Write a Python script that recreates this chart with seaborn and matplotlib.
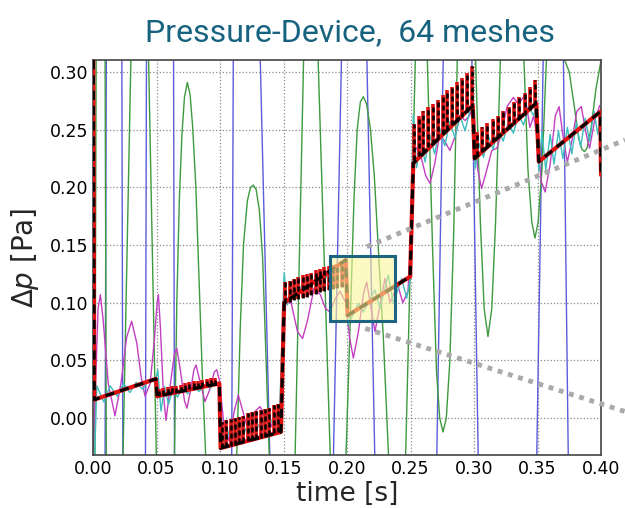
import matplotlib
matplotlib.use("Agg")
import matplotlib.pyplot as plt
from matplotlib.patches import Rectangle
import seaborn as sns

# reference solution: piecewise-linear sawtooth (black dashed over red)
saw_t = [0.0000, 0.0010, 0.0495, 0.0505, 0.0995, 0.1005, 0.1480, 0.1505, 0.1990,
         0.2005, 0.2497, 0.2522, 0.2990, 0.3005, 0.3490, 0.3510, 0.3995, 0.4000]
saw_v = [0.400, 0.016, 0.034, 0.019, 0.030, -0.026, -0.012, 0.100, 0.137,
         0.089, 0.1226, 0.221, 0.271, 0.225, 0.273, 0.2223, 0.2656, 0.2107]

# high-frequency spikes riding on the sawtooth
spike_t = [0.0520, 0.0554, 0.0588, 0.0622, 0.0656, 0.0690, 0.0724, 0.0758, 0.0792, 0.0826, 0.0860, 0.0894, 0.0928, 0.0962,
           0.1015, 0.1049, 0.1083, 0.1117, 0.1151, 0.1185, 0.1219, 0.1253, 0.1287, 0.1321, 0.1355, 0.1389, 0.1423, 0.1457,
           0.1515, 0.1549, 0.1583, 0.1617, 0.1651, 0.1685, 0.1719, 0.1753, 0.1787, 0.1821, 0.1855, 0.1889, 0.1923, 0.1957,
           0.2525, 0.2563, 0.2601, 0.2639, 0.2677, 0.2715, 0.2753, 0.2791, 0.2829, 0.2867, 0.2905, 0.2943, 0.2981,
           0.3020, 0.3062, 0.3104, 0.3146, 0.3188, 0.3230, 0.3272, 0.3314, 0.3356, 0.3398, 0.3440, 0.3482]
spike_lo = [0.019, 0.020, 0.021, 0.022, 0.022, 0.023, 0.024, 0.025, 0.026, 0.026, 0.027, 0.028, 0.029, 0.029,
            -0.026, -0.025, -0.024, -0.023, -0.022, -0.021, -0.020, -0.019, -0.018, -0.017, -0.016, -0.015, -0.013, -0.012,
            0.100, 0.101, 0.102, 0.103, 0.104, 0.105, 0.107, 0.108, 0.109, 0.110, 0.111, 0.112, 0.113, 0.114,
            0.2235, 0.227, 0.231, 0.235, 0.238, 0.242, 0.246, 0.250, 0.254, 0.257, 0.261, 0.265, 0.269,
            0.227, 0.231, 0.235, 0.239, 0.243, 0.247, 0.251, 0.255, 0.259, 0.263, 0.267, 0.271]
spike_hi = [0.025, 0.026, 0.027, 0.028, 0.028, 0.029, 0.030, 0.031, 0.032, 0.032, 0.033, 0.034, 0.035, 0.035,
            -0.003, -0.002, -0.001, 0.000, 0.001, 0.002, 0.004, 0.005, 0.006, 0.007, 0.008, 0.009, 0.011, 0.012,
            0.118, 0.119, 0.121, 0.122, 0.124, 0.125, 0.126, 0.128, 0.129, 0.131, 0.132, 0.133, 0.134, 0.136,
            0.255, 0.262, 0.266, 0.270, 0.272, 0.276, 0.280, 0.284, 0.287, 0.291, 0.295, 0.299, 0.305,
            0.248, 0.252, 0.256, 0.259, 0.262, 0.266, 0.270, 0.274, 0.278, 0.282, 0.287, 0.293]

# cyan: small oscillation around the sawtooth
cyan_t = [0.0000, 0.0030, 0.0085, 0.0135, 0.0190, 0.0240, 0.0290, 0.0340, 0.0390, 0.0440, 0.0490,
          0.0510, 0.0535, 0.0565, 0.0595, 0.0630, 0.0665, 0.0705, 0.0745, 0.0790, 0.0835, 0.0880, 0.0925, 0.0970, 0.0995,
          0.1015, 0.1040, 0.1080, 0.1120, 0.1170, 0.1220, 0.1270, 0.1320, 0.1370, 0.1420, 0.1470,
          0.1505, 0.1530, 0.1560, 0.1600, 0.1650, 0.1700, 0.1750, 0.1800, 0.1850, 0.1900, 0.1950, 0.1985,
          0.2010, 0.2089, 0.2129, 0.2220, 0.2260, 0.2325, 0.2365, 0.2430, 0.2470, 0.2495,
          0.2510, 0.2522, 0.2548, 0.2580, 0.2615, 0.2650, 0.2690, 0.2730, 0.2770, 0.2810, 0.2850, 0.2890, 0.2930, 0.2970, 0.2995,
          0.3010, 0.3040, 0.3075, 0.3110, 0.3150, 0.3190, 0.3230, 0.3270, 0.3310, 0.3350, 0.3390, 0.3430, 0.3470, 0.3495,
          0.3510, 0.3535, 0.3565, 0.3600, 0.3630, 0.3665, 0.3700, 0.3735, 0.3770, 0.3805, 0.3840, 0.3875, 0.3910, 0.3945, 0.3975, 0.4000]
cyan_v = [-0.080, 0.028, 0.014, 0.028, 0.019, 0.030, 0.022, 0.031, 0.025, 0.033, 0.031,
          0.042, 0.006, 0.027, 0.012, 0.026, 0.018, 0.027, 0.021, 0.028, 0.023, 0.029, 0.026, 0.031, 0.030,
          -0.005, -0.025, -0.008, -0.020, -0.004, -0.014, 0.000, -0.010, 0.004, -0.005, 0.006,
          0.126, 0.098, 0.112, 0.104, 0.117, 0.108, 0.122, 0.112, 0.126, 0.117, 0.130, 0.125,
          0.081, 0.0995, 0.092, 0.111, 0.095, 0.124, 0.0995, 0.121, 0.104, 0.118,
          0.200, 0.263, 0.217, 0.240, 0.222, 0.246, 0.229, 0.251, 0.236, 0.257, 0.243, 0.262, 0.249, 0.268, 0.262,
          0.2165, 0.238, 0.226, 0.245, 0.233, 0.251, 0.240, 0.257, 0.247, 0.263, 0.254, 0.270, 0.262, 0.275,
          0.214, 0.248, 0.215, 0.246, 0.220, 0.249, 0.225, 0.252, 0.229, 0.256, 0.235, 0.260, 0.240, 0.266, 0.246, 0.268]

# magenta: medium oscillation
mag_t = [0.0000, 0.0020, 0.0040, 0.0058, 0.0080, 0.0120, 0.0173, 0.0220, 0.0265, 0.0304, 0.0345, 0.0380, 0.0410, 0.0450,
         0.0485, 0.0505, 0.0515, 0.0530, 0.0555, 0.0575, 0.0610, 0.0640, 0.0660, 0.0690, 0.0720, 0.0740, 0.0770, 0.0795,
         0.0811, 0.0840, 0.0882, 0.0920, 0.0955, 0.0974, 0.0995, 0.1030, 0.1073, 0.1110, 0.1144, 0.1180, 0.1210, 0.1260,
         0.1315, 0.1360, 0.1400, 0.1440, 0.1480, 0.1510, 0.1560, 0.1610, 0.1650, 0.1690, 0.1740, 0.1790, 0.1830, 0.1866,
         0.1910, 0.1945, 0.1990, 0.2020, 0.2050, 0.2090, 0.2130, 0.2155, 0.2185, 0.2220, 0.2260, 0.2299, 0.2339, 0.2370,
         0.2400, 0.2440, 0.2480, 0.2500, 0.2505, 0.2540, 0.2580, 0.2620, 0.2654, 0.2690, 0.2730, 0.2770, 0.2810, 0.2850,
         0.2890, 0.2930, 0.2965, 0.2995, 0.3030, 0.3060, 0.3100, 0.3140, 0.3180, 0.3220, 0.3260, 0.3310, 0.3350, 0.3400,
         0.3440, 0.3470, 0.3500, 0.3530, 0.3560, 0.3600, 0.3640, 0.3670, 0.3700, 0.3735, 0.3770, 0.3810, 0.3845, 0.3880,
         0.3910, 0.3950, 0.3990]
mag_v = [-0.030, 0.030, 0.095, 0.107, 0.085, 0.030, 0.002, 0.030, 0.070, 0.084, 0.065, 0.035, 0.019, 0.030,
         0.070, 0.100, 0.107, 0.080, 0.020, -0.002, 0.030, 0.055, 0.0605, 0.040, 0.015, 0.0086, 0.025, 0.042,
         0.046, 0.033, 0.0143, 0.025, 0.040, 0.042, 0.033, -0.005, -0.020, 0.005, 0.020, 0.006, -0.006, 0.004,
         0.010, 0.000, -0.008, 0.004, 0.005, 0.100, 0.100, 0.075, 0.069, 0.085, 0.1125, 0.107, 0.095, 0.092,
         0.104, 0.110, 0.100, 0.070, 0.052, 0.075, 0.108, 0.118, 0.098, 0.075, 0.098, 0.121, 0.100, 0.108,
         0.115, 0.100, 0.110, 0.150, 0.190, 0.235, 0.228, 0.210, 0.2035, 0.220, 0.246, 0.240, 0.232, 0.244,
         0.262, 0.258, 0.262, 0.273, 0.215, 0.199, 0.215, 0.232, 0.234, 0.248, 0.270, 0.278, 0.272, 0.280,
         0.252, 0.262, 0.240, 0.205, 0.196, 0.220, 0.262, 0.270, 0.245, 0.222, 0.240, 0.266, 0.270, 0.248,
         0.234, 0.258, 0.271]

# green: large oscillation, mostly off the top/bottom of the view
green_t = [0.0000, 0.0015, 0.0025, 0.0060, 0.0095, 0.0105, 0.0170, 0.0235, 0.0300, 0.0370, 0.0436, 0.0500,
           0.0570, 0.0640, 0.0660, 0.0680, 0.0700, 0.0720, 0.0743, 0.0765, 0.0785, 0.0810, 0.0835, 0.0860,
           0.0890, 0.1010, 0.1130, 0.1160, 0.1185, 0.1215, 0.1240, 0.1262, 0.1285, 0.1310, 0.1335, 0.1360,
           0.1390, 0.1490, 0.1590, 0.1660, 0.1715, 0.1770, 0.1870, 0.1930, 0.1990, 0.2030, 0.2055, 0.2080,
           0.2105, 0.2129, 0.2155, 0.2185, 0.2215, 0.2250, 0.2286, 0.2330, 0.2395, 0.2460, 0.2540, 0.2590,
           0.2630, 0.2674, 0.2705, 0.2730, 0.2756, 0.2782, 0.2810, 0.2840, 0.2870, 0.2930, 0.3010, 0.3050,
           0.3080, 0.3110, 0.3140, 0.3170, 0.3210, 0.3290, 0.3390, 0.3425, 0.3455, 0.3480, 0.3505, 0.3535,
           0.3570, 0.3620, 0.3680, 0.3750, 0.3790, 0.3825, 0.3850, 0.3870, 0.3890, 0.3920, 0.3960, 0.4000]
green_v = [-0.300, -0.040, 0.320, 0.500, 0.320, -0.040, -0.300, -0.040, 0.320, 0.550, 0.320, -0.040,
           -0.200, -0.040, 0.100, 0.190, 0.245, 0.278, 0.291, 0.280, 0.252, 0.200, 0.120, 0.040,
           -0.040, -0.250, -0.040, 0.080, 0.150, 0.188, 0.200, 0.202, 0.198, 0.180, 0.140, 0.060,
           -0.040, -0.250, -0.040, 0.320, 0.450, 0.320, -0.040, -0.200, -0.040, 0.100, 0.190, 0.250,
           0.274, 0.2786, 0.272, 0.250, 0.210, 0.140, 0.070, -0.040, -0.150, -0.040, 0.320, 0.400,
           0.320, 0.146, 0.040, 0.000, -0.012, 0.000, 0.050, 0.160, 0.320, 0.500, 0.320, 0.170,
           0.095, 0.0707, 0.095, 0.170, 0.320, 0.500, 0.320, 0.215, 0.170, 0.156, 0.170, 0.215,
           0.310, 0.330, 0.320, 0.300, 0.270, 0.242, 0.233, 0.231, 0.234, 0.250, 0.285, 0.310]

# blue: very large oscillation, only its crossings of the view are visible
blue_t = [0.0000, 0.0095, 0.0105, 0.0227, 0.0235, 0.0413, 0.0421, 0.0634, 0.0642, 0.1092, 0.1105,
          0.1315, 0.1394, 0.1892, 0.1958, 0.2155, 0.2220, 0.2706, 0.2759, 0.2982, 0.3034, 0.3493,
          0.3546, 0.3703, 0.3743, 0.4000]
blue_v = [-0.040, -0.040, 0.320, 0.320, -0.040, -0.040, 0.320, 0.320, -0.040, -0.040, 0.320,
          0.320, -0.040, -0.040, 0.320, 0.320, -0.040, -0.040, 0.320, 0.320, -0.040, -0.040,
          0.320, 0.320, -0.040, -0.040]

x_ticks = [0.00, 0.05, 0.10, 0.15, 0.20, 0.25, 0.30, 0.35, 0.40]
y_ticks = [0.00, 0.05, 0.10, 0.15, 0.20, 0.25, 0.30]

# zoom box and its guide lines (data coordinates)
box_x0, box_x1 = 0.1868, 0.2381
box_y0, box_y1 = 0.0845, 0.1406
guide_upper = ([0.2156, 0.4189], [0.1486, 0.2411])
guide_lower = ([0.2144, 0.4189], [0.0777, 0.0057])


def main():
    sns.set_style("white")
    plt.rcParams["font.family"] = ["DejaVu Sans"]

    fig = plt.figure(figsize=(6.25, 5.08), dpi=100)
    ax = fig.add_axes([0.1488, 0.1043, 0.8128, 0.7776])

    kw = dict(ax=ax, estimator=None, sort=False, legend=False)
    sns.lineplot(x=blue_t, y=blue_v, color="#5b5bdc", lw=1.0, **kw)
    sns.lineplot(x=green_t, y=green_v, color="#3e9a3e", lw=1.0, **kw)
    sns.lineplot(x=mag_t, y=mag_v, color="#c23fc2", lw=1.0, **kw)
    sns.lineplot(x=cyan_t, y=cyan_v, color="#3dbdbd", lw=1.0, **kw)

    # red solution with its spikes, then the black dashed reference on top
    ax.vlines(spike_t, spike_lo, spike_hi, color="#e01010", lw=2.6, zorder=4)
    sns.lineplot(x=saw_t, y=saw_v, color="#e01010", lw=3.0, zorder=4, **kw)
    ax.vlines(spike_t, spike_lo, spike_hi, color="black", lw=1.8,
              linestyles=(0, (2.0, 1.2)), zorder=5)
    sns.lineplot(x=saw_t, y=saw_v, color="black", lw=2.2, zorder=5, **kw)
    ax.lines[-1].set_linestyle((0, (3.0, 2.0)))

    ax.add_patch(Rectangle((box_x0, box_y0), box_x1 - box_x0, box_y1 - box_y0,
                           facecolor="#fbf59a", alpha=0.6, edgecolor="none", zorder=6))
    ax.add_patch(Rectangle((box_x0, box_y0), box_x1 - box_x0, box_y1 - box_y0,
                           facecolor="none", edgecolor="#1d6480", lw=2.2, zorder=7))
    for gx, gy in (guide_upper, guide_lower):
        ax.plot(gx, gy, color="#aaaaaa", lw=3.5, linestyle=(0, (1.0, 1.2)),
                clip_on=False, zorder=8)

    ax.set_xlim(0.0, 0.40)
    ax.set_ylim(-0.032, 0.3104)
    ax.set_xticks(x_ticks)
    ax.set_yticks(y_ticks)
    ax.set_xticklabels([f"{v:.2f}" for v in x_ticks])
    ax.set_yticklabels([f"{v:.2f}" for v in y_ticks])
    ax.tick_params(direction="in", length=4, labelsize=12.5, colors="black")
    ax.grid(True, linestyle=":", color="#8a8a8a", lw=0.9)
    for s in ax.spines.values():
        s.set_color("#444444")
        s.set_linewidth(1.2)

    ax.set_xlabel("time [s]", fontsize=19, labelpad=2)
    ax.set_ylabel(r"$\Delta p$ [Pa]", fontsize=20, labelpad=6)

    fig.text(0.56, 0.919, "Pressure-Device,  64 meshes", ha="center", va="baseline",
             fontsize=23, color="#17637f", family=["Roboto", "DejaVu Sans"])

    fig.savefig("out.png", dpi=100)
    plt.close(fig)


if __name__ == "__main__":
    main()
